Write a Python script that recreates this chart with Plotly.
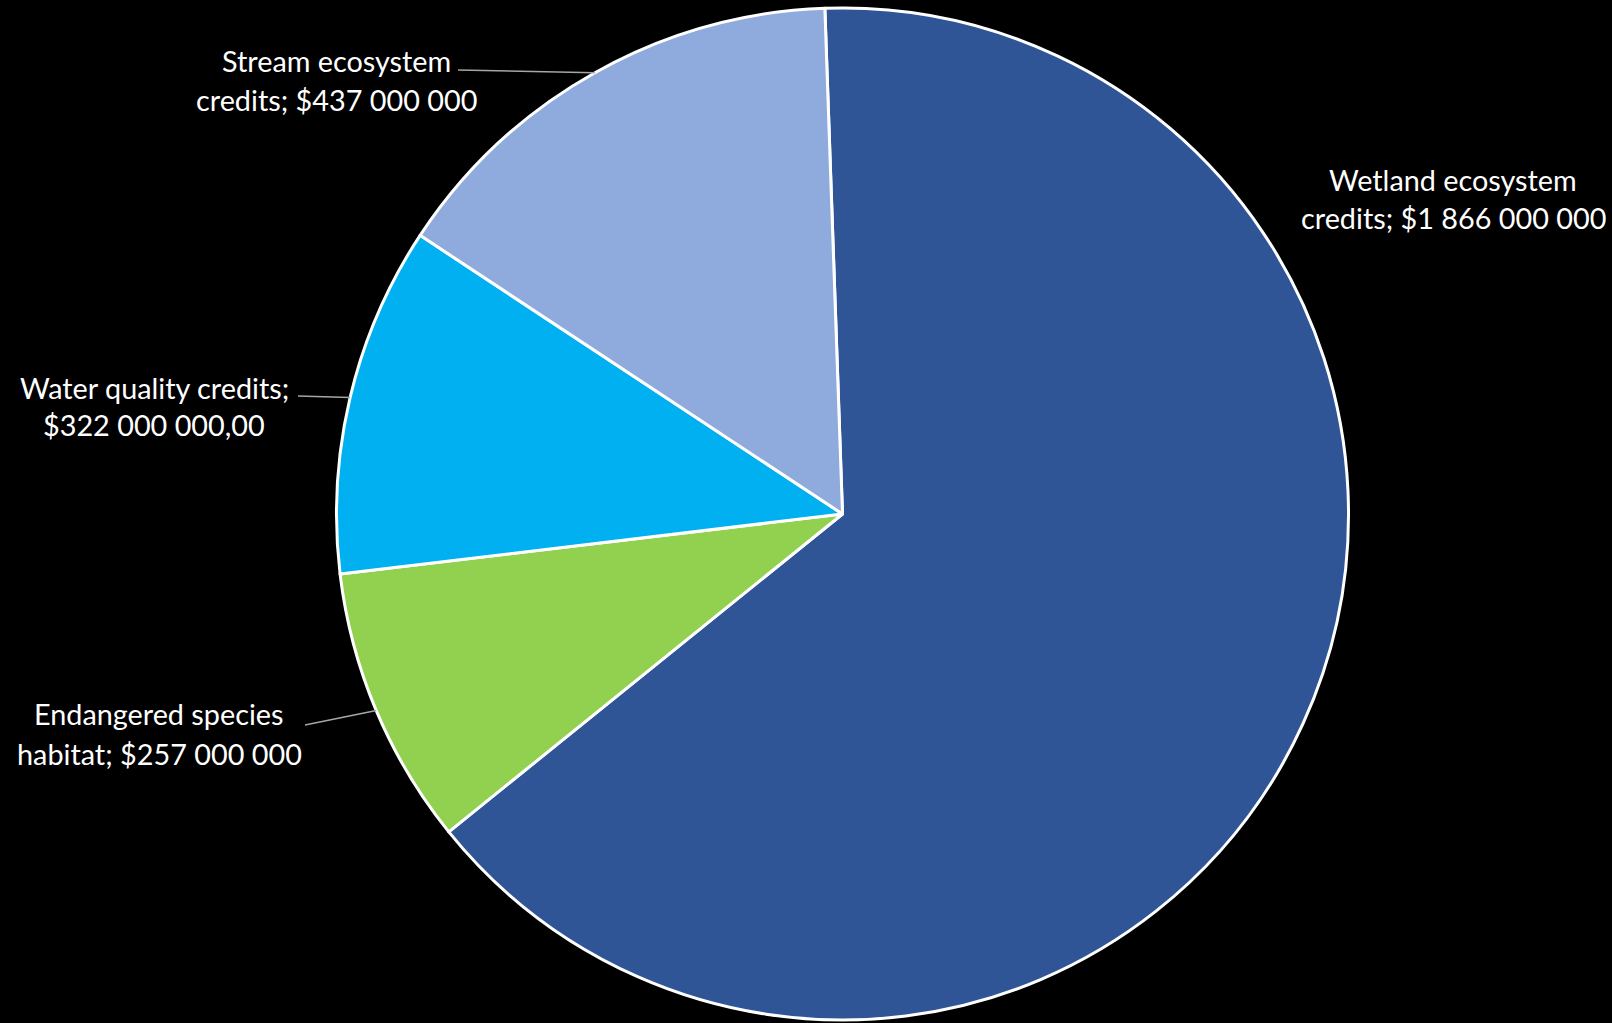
import math
import plotly.graph_objects as go

# ---- data ----
categories = ["Wetland ecosystem credits", "Endangered species habitat",
              "Water quality credits", "Stream ecosystem credits"]
values = [1866000000, 257000000, 322000000, 437000000]
label_line1 = ["Wetland ecosystem", "Endangered species", "Water quality credits;", "Stream ecosystem"]
label_line2 = ["credits; $1 866 000 000", "habitat; $257 000 000", "$322 000 000,00", "credits; $437 000 000"]

# ---- style / layout ----
colors = ["#2F5597", "#92D050", "#00B0F0", "#8FAADC"]
W, H = 1612, 1023
CX, CY, R = 842.5, 514.0, 506.0
ROTATION = -2.0
FONT = "Lato"
FSIZE = 28.8

# label centers (px) for the two lines and leader-line start points (px)
label_pos = [(1453, 180, 218), (159, 714, 754), (154, 388, 425), (336, 61, 100)]
leader_start = [None, (305, 725), (298, 396), (458, 70)]

fig = go.Figure(go.Pie(
    labels=categories, values=values, sort=False, direction="clockwise",
    rotation=ROTATION, textinfo="none", hoverinfo="label+value",
    marker=dict(colors=colors, line=dict(color="white", width=3)),
    domain=dict(x=[(CX - R) / W, (CX + R) / W], y=[(H - CY - R) / H, (H - CY + R) / H]),
    showlegend=False,
))

def px2paper(x, y):
    return x / W, 1 - y / H

annotations = []
shapes = []
total = sum(values)
cum = 0.0
for i, v in enumerate(values):
    mid = math.radians(ROTATION + 360.0 * (cum + v / 2) / total)
    cum += v
    lx, ly1, ly2 = label_pos[i]
    for txt, ly in ((label_line1[i], ly1), (label_line2[i], ly2)):
        px, py = px2paper(lx, ly)
        annotations.append(dict(x=px, y=py, xref="paper", yref="paper", text=txt,
                                showarrow=False, xanchor="center", yanchor="middle",
                                font=dict(family=FONT, size=FSIZE, color="white")))
    if leader_start[i] is not None:
        ex = CX + R * math.sin(mid)
        ey = CY - R * math.cos(mid)
        sx, sy = leader_start[i]
        x0, y0 = px2paper(sx, sy)
        x1, y1 = px2paper(ex, ey)
        shapes.append(dict(type="line", xref="paper", yref="paper", x0=x0, y0=y0, x1=x1, y1=y1,
                           line=dict(color="#A6A6A6", width=1.5)))

fig.update_layout(
    width=W, height=H, margin=dict(l=0, r=0, t=0, b=0),
    paper_bgcolor="black", plot_bgcolor="black",
    annotations=annotations, shapes=shapes,
)
fig.write_html("out.html")
